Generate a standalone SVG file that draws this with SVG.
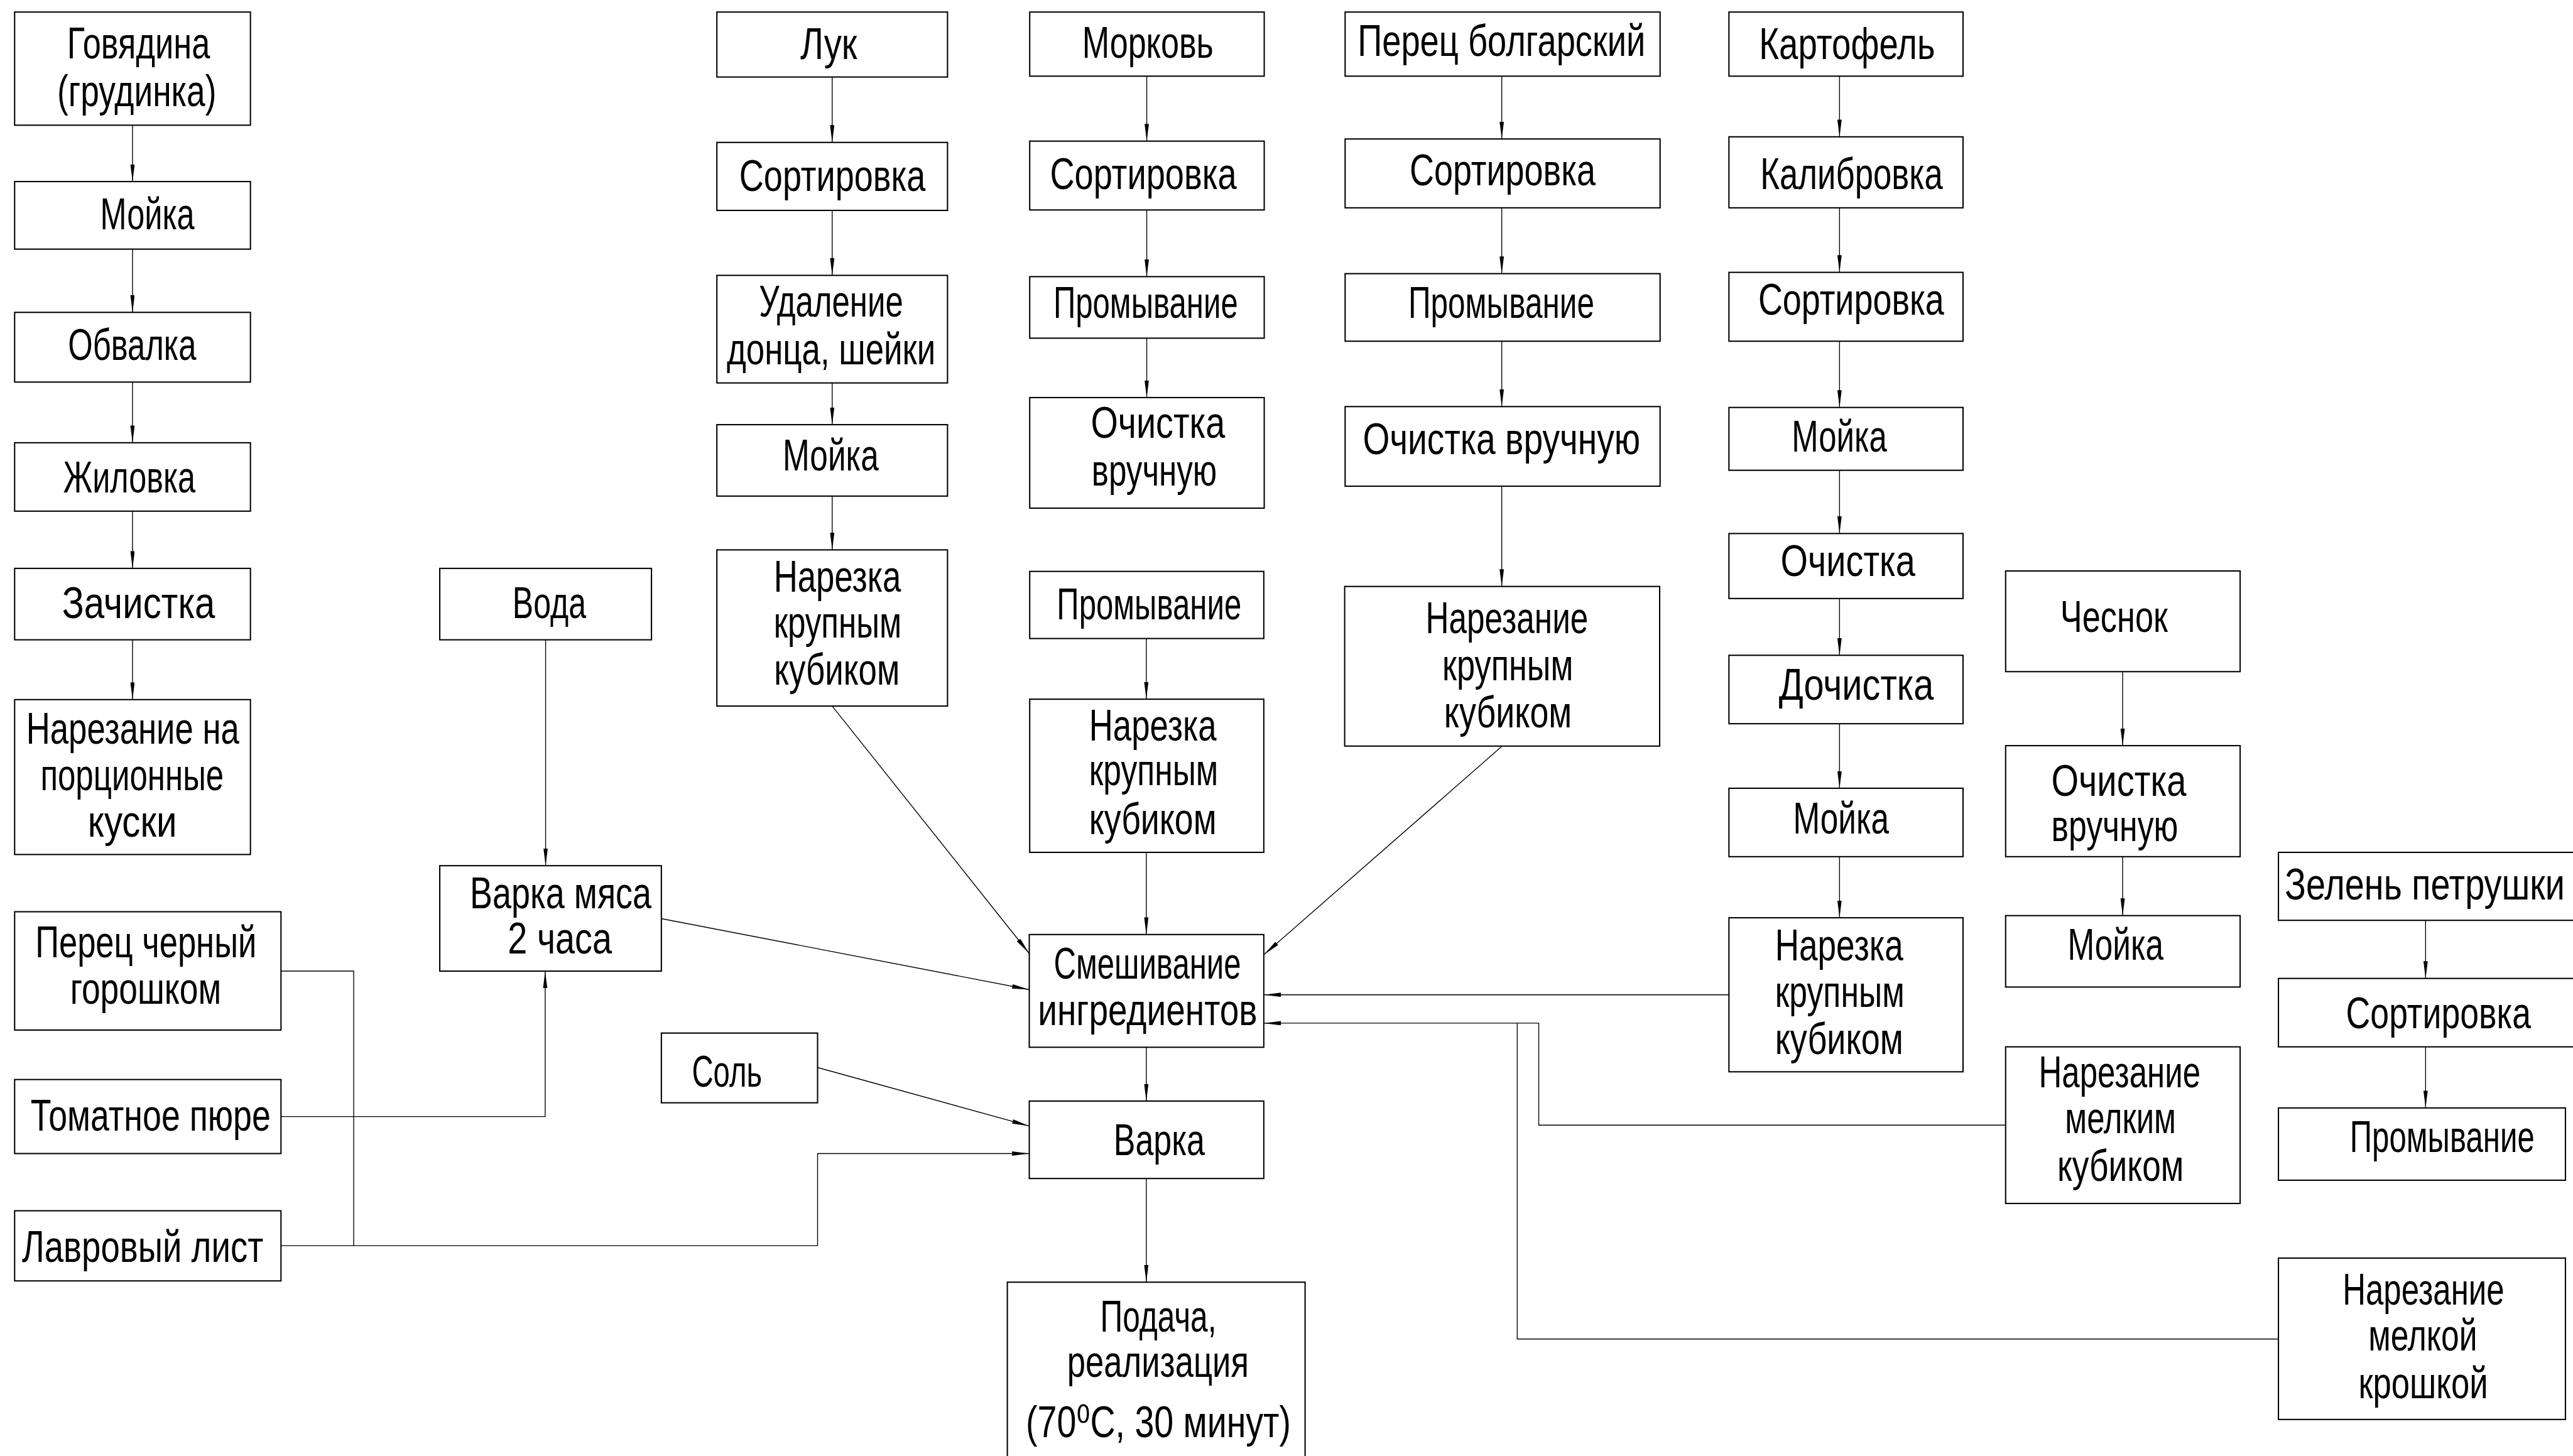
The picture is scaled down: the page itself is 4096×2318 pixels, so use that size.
<svg xmlns="http://www.w3.org/2000/svg" width="4096" height="2318" viewBox="0 0 4096 2318">
<style>
.box{fill:#fff;stroke:#000;stroke-width:3}
.ln{fill:none;stroke:#000;stroke-width:2}
text{font-family:"Liberation Sans","DejaVu Sans",sans-serif;font-size:103px;fill:#000}
</style>
<defs>
<marker id="ar" markerUnits="userSpaceOnUse" markerWidth="42" markerHeight="12" refX="40" refY="5" orient="auto">
<path d="M0,0 L40,5 L0,10 Z" fill="#000"/>
</marker>
</defs>
<rect width="4096" height="2318" fill="#fff"/>
<g transform="scale(0.685)">
<g id="connectors">
<path class="ln" marker-end="url(#ar)" d="M308,291 V422"/>
<path class="ln" marker-end="url(#ar)" d="M308,579 V726"/>
<path class="ln" marker-end="url(#ar)" d="M308,888 V1029"/>
<path class="ln" marker-end="url(#ar)" d="M308,1188 V1321"/>
<path class="ln" marker-end="url(#ar)" d="M308,1487 V1626"/>
<path class="ln" marker-end="url(#ar)" d="M1934,179 V331"/>
<path class="ln" marker-end="url(#ar)" d="M1934,489 V640"/>
<path class="ln" marker-end="url(#ar)" d="M1934,890 V987"/>
<path class="ln" marker-end="url(#ar)" d="M1934,1153 V1278"/>
<path class="ln" marker-end="url(#ar)" d="M2665,177 V328"/>
<path class="ln" marker-end="url(#ar)" d="M2665,488 V643"/>
<path class="ln" marker-end="url(#ar)" d="M2665,786 V924"/>
<path class="ln" marker-end="url(#ar)" d="M2664,1484 V1625"/>
<path class="ln" marker-end="url(#ar)" d="M2664,1981 V2172"/>
<path class="ln" marker-end="url(#ar)" d="M2664,2434 V2559"/>
<path class="ln" marker-end="url(#ar)" d="M2664,2739 V2980"/>
<path class="ln" marker-end="url(#ar)" d="M3490,177 V323"/>
<path class="ln" marker-end="url(#ar)" d="M3490,483 V636"/>
<path class="ln" marker-end="url(#ar)" d="M3490,793 V945"/>
<path class="ln" marker-end="url(#ar)" d="M3490,1130 V1363"/>
<path class="ln" marker-end="url(#ar)" d="M4275,177 V318"/>
<path class="ln" marker-end="url(#ar)" d="M4275,483 V633"/>
<path class="ln" marker-end="url(#ar)" d="M4275,793 V947"/>
<path class="ln" marker-end="url(#ar)" d="M4275,1093 V1240"/>
<path class="ln" marker-end="url(#ar)" d="M4275,1391 V1523"/>
<path class="ln" marker-end="url(#ar)" d="M4275,1682 V1832"/>
<path class="ln" marker-end="url(#ar)" d="M4275,1991 V2133"/>
<path class="ln" marker-end="url(#ar)" d="M4933,1561 V1733"/>
<path class="ln" marker-end="url(#ar)" d="M4933,1991 V2128"/>
<path class="ln" marker-end="url(#ar)" d="M5637,2139 V2274"/>
<path class="ln" marker-end="url(#ar)" d="M5637,2433 V2575"/>
<path class="ln" marker-end="url(#ar)" d="M1268,1487 V2012"/>
<path class="ln" marker-end="url(#ar)" d="M1934,1641 L2392,2216"/>
<path class="ln" marker-end="url(#ar)" d="M3491,1734 L2937,2219"/>
<path class="ln" marker-end="url(#ar)" d="M1537,2135 L2392,2300"/>
<path class="ln" marker-end="url(#ar)" d="M1900,2481 L2392,2617"/>
<path class="ln" marker-end="url(#ar)" d="M4018,2312 H2937"/>
<path class="ln" marker-end="url(#ar)" d="M4661,2615 H3576 V2378 H2937"/>
<path class="ln" d="M5295,3112 H3526 V2378"/>
<path class="ln" marker-end="url(#ar)" d="M653,2595 H1267 V2257"/>
<path class="ln" d="M653,2257 H822 V2895"/>
<path class="ln" marker-end="url(#ar)" d="M653,2895 H1900 V2681 H2392"/>
</g>
<g id="n-govyadina"><rect class="box" x="34" y="28" width="548" height="263"/><text x="156" y="136" textLength="332" lengthAdjust="spacingAndGlyphs">Говядина</text><text x="133" y="246" textLength="370" lengthAdjust="spacingAndGlyphs">(грудинка)</text></g>
<g id="n-moyka1"><rect class="box" x="34" y="422" width="548" height="157"/><text x="233" y="533" textLength="219" lengthAdjust="spacingAndGlyphs">Мойка</text></g>
<g id="n-obvalka"><rect class="box" x="34" y="726" width="548" height="162"/><text x="158" y="837" textLength="298" lengthAdjust="spacingAndGlyphs">Обвалка</text></g>
<g id="n-zhilovka"><rect class="box" x="34" y="1029" width="548" height="159"/><text x="147" y="1144" textLength="307" lengthAdjust="spacingAndGlyphs">Жиловка</text></g>
<g id="n-zachistka"><rect class="box" x="34" y="1321" width="548" height="166"/><text x="144" y="1436" textLength="356" lengthAdjust="spacingAndGlyphs">Зачистка</text></g>
<g id="n-narezanie-porc"><rect class="box" x="34" y="1626" width="548" height="360"/><text x="61" y="1728" textLength="495" lengthAdjust="spacingAndGlyphs">Нарезание на</text><text x="94" y="1837" textLength="426" lengthAdjust="spacingAndGlyphs">порционные</text><text x="204" y="1945" textLength="207" lengthAdjust="spacingAndGlyphs">куски</text></g>
<g id="n-voda"><rect class="box" x="1022" y="1321" width="492" height="166"/><text x="1191" y="1436" textLength="171" lengthAdjust="spacingAndGlyphs">Вода</text></g>
<g id="n-varka-myasa"><rect class="box" x="1022" y="2012" width="515" height="245"/><text x="1092" y="2111" textLength="422" lengthAdjust="spacingAndGlyphs">Варка мяса</text><text x="1180" y="2216" textLength="242" lengthAdjust="spacingAndGlyphs">2 часа</text></g>
<g id="n-perec-cherny"><rect class="box" x="34" y="2119" width="619" height="275"/><text x="82" y="2225" textLength="514" lengthAdjust="spacingAndGlyphs">Перец черный</text><text x="163" y="2333" textLength="351" lengthAdjust="spacingAndGlyphs">горошком</text></g>
<g id="n-tomat"><rect class="box" x="34" y="2509" width="619" height="172"/><text x="71" y="2628" textLength="558" lengthAdjust="spacingAndGlyphs">Томатное пюре</text></g>
<g id="n-lavr"><rect class="box" x="34" y="2814" width="619" height="163"/><text x="51" y="2933" textLength="561" lengthAdjust="spacingAndGlyphs">Лавровый лист</text></g>
<g id="n-sol"><rect class="box" x="1537" y="2401" width="363" height="162"/><text x="1608" y="2526" textLength="163" lengthAdjust="spacingAndGlyphs">Соль</text></g>
<g id="n-luk"><rect class="box" x="1666" y="28" width="536" height="151"/><text x="1860" y="137" textLength="132" lengthAdjust="spacingAndGlyphs">Лук</text></g>
<g id="n-luk-sort"><rect class="box" x="1666" y="331" width="536" height="158"/><text x="1718" y="444" textLength="433" lengthAdjust="spacingAndGlyphs">Сортировка</text></g>
<g id="n-luk-udal"><rect class="box" x="1666" y="640" width="536" height="250"/><text x="1764" y="736" textLength="335" lengthAdjust="spacingAndGlyphs">Удаление</text><text x="1689" y="846" textLength="485" lengthAdjust="spacingAndGlyphs">донца, шейки</text></g>
<g id="n-luk-moyka"><rect class="box" x="1666" y="987" width="536" height="166"/><text x="1819" y="1093" textLength="223" lengthAdjust="spacingAndGlyphs">Мойка</text></g>
<g id="n-luk-narezka"><rect class="box" x="1666" y="1278" width="536" height="363"/><text x="1798" y="1375" textLength="296" lengthAdjust="spacingAndGlyphs">Нарезка</text><text x="1798" y="1482" textLength="297" lengthAdjust="spacingAndGlyphs">крупным</text><text x="1799" y="1591" textLength="292" lengthAdjust="spacingAndGlyphs">кубиком</text></g>
<g id="n-morkov"><rect class="box" x="2393" y="28" width="545" height="149"/><text x="2515" y="135" textLength="305" lengthAdjust="spacingAndGlyphs">Морковь</text></g>
<g id="n-morkov-sort"><rect class="box" x="2393" y="328" width="545" height="160"/><text x="2440" y="439" textLength="434" lengthAdjust="spacingAndGlyphs">Сортировка</text></g>
<g id="n-morkov-prom"><rect class="box" x="2393" y="643" width="545" height="143"/><text x="2448" y="738" textLength="429" lengthAdjust="spacingAndGlyphs">Промывание</text></g>
<g id="n-morkov-ochist"><rect class="box" x="2393" y="924" width="545" height="257"/><text x="2535" y="1018" textLength="312" lengthAdjust="spacingAndGlyphs">Очистка</text><text x="2537" y="1128" textLength="291" lengthAdjust="spacingAndGlyphs">вручную</text></g>
<g id="n-morkov-prom2"><rect class="box" x="2393" y="1328" width="544" height="156"/><text x="2456" y="1439" textLength="429" lengthAdjust="spacingAndGlyphs">Промывание</text></g>
<g id="n-morkov-narezka"><rect class="box" x="2393" y="1625" width="544" height="356"/><text x="2531" y="1721" textLength="296" lengthAdjust="spacingAndGlyphs">Нарезка</text><text x="2531" y="1825" textLength="300" lengthAdjust="spacingAndGlyphs">крупным</text><text x="2531" y="1938" textLength="296" lengthAdjust="spacingAndGlyphs">кубиком</text></g>
<g id="n-perec-bolg"><rect class="box" x="3126" y="28" width="732" height="149"/><text x="3155" y="130" textLength="669" lengthAdjust="spacingAndGlyphs">Перец болгарский</text></g>
<g id="n-perec-sort"><rect class="box" x="3126" y="323" width="732" height="160"/><text x="3276" y="431" textLength="432" lengthAdjust="spacingAndGlyphs">Сортировка</text></g>
<g id="n-perec-prom"><rect class="box" x="3126" y="636" width="732" height="157"/><text x="3273" y="738" textLength="432" lengthAdjust="spacingAndGlyphs">Промывание</text></g>
<g id="n-perec-ochist"><rect class="box" x="3126" y="945" width="732" height="185"/><text x="3167" y="1055" textLength="645" lengthAdjust="spacingAndGlyphs">Очистка вручную</text></g>
<g id="n-perec-narez"><rect class="box" x="3125" y="1363" width="732" height="371"/><text x="3313" y="1472" textLength="378" lengthAdjust="spacingAndGlyphs">Нарезание</text><text x="3352" y="1581" textLength="304" lengthAdjust="spacingAndGlyphs">крупным</text><text x="3356" y="1691" textLength="297" lengthAdjust="spacingAndGlyphs">кубиком</text></g>
<g id="n-kartofel"><rect class="box" x="4018" y="28" width="544" height="149"/><text x="4088" y="137" textLength="409" lengthAdjust="spacingAndGlyphs">Картофель</text></g>
<g id="n-kart-kalib"><rect class="box" x="4018" y="318" width="544" height="165"/><text x="4091" y="439" textLength="424" lengthAdjust="spacingAndGlyphs">Калибровка</text></g>
<g id="n-kart-sort"><rect class="box" x="4018" y="633" width="544" height="160"/><text x="4086" y="732" textLength="432" lengthAdjust="spacingAndGlyphs">Сортировка</text></g>
<g id="n-kart-moyka"><rect class="box" x="4018" y="947" width="544" height="146"/><text x="4164" y="1050" textLength="221" lengthAdjust="spacingAndGlyphs">Мойка</text></g>
<g id="n-kart-ochist"><rect class="box" x="4018" y="1240" width="544" height="151"/><text x="4138" y="1339" textLength="313" lengthAdjust="spacingAndGlyphs">Очистка</text></g>
<g id="n-kart-dochist"><rect class="box" x="4018" y="1523" width="544" height="159"/><text x="4134" y="1626" textLength="360" lengthAdjust="spacingAndGlyphs">Дочистка</text></g>
<g id="n-kart-moyka2"><rect class="box" x="4018" y="1832" width="544" height="159"/><text x="4167" y="1937" textLength="223" lengthAdjust="spacingAndGlyphs">Мойка</text></g>
<g id="n-kart-narezka"><rect class="box" x="4018" y="2133" width="544" height="358"/><text x="4125" y="2232" textLength="298" lengthAdjust="spacingAndGlyphs">Нарезка</text><text x="4125" y="2340" textLength="301" lengthAdjust="spacingAndGlyphs">крупным</text><text x="4125" y="2450" textLength="298" lengthAdjust="spacingAndGlyphs">кубиком</text></g>
<g id="n-chesnok"><rect class="box" x="4661" y="1327" width="545" height="234"/><text x="4788" y="1469" textLength="250" lengthAdjust="spacingAndGlyphs">Чеснок</text></g>
<g id="n-chesnok-ochist"><rect class="box" x="4661" y="1733" width="545" height="258"/><text x="4767" y="1849" textLength="314" lengthAdjust="spacingAndGlyphs">Очистка</text><text x="4767" y="1955" textLength="295" lengthAdjust="spacingAndGlyphs">вручную</text></g>
<g id="n-chesnok-moyka"><rect class="box" x="4661" y="2128" width="545" height="166"/><text x="4805" y="2231" textLength="223" lengthAdjust="spacingAndGlyphs">Мойка</text></g>
<g id="n-chesnok-narez"><rect class="box" x="4661" y="2433" width="545" height="364"/><text x="4738" y="2527" textLength="376" lengthAdjust="spacingAndGlyphs">Нарезание</text><text x="4799" y="2633" textLength="258" lengthAdjust="spacingAndGlyphs">мелким</text><text x="4781" y="2744" textLength="294" lengthAdjust="spacingAndGlyphs">кубиком</text></g>
<g id="n-zelen"><rect class="box" x="5295" y="1981" width="700" height="158"/><text transform="matrix(0.7,0,0,1,5310,2090)" x="0" y="0" textLength="929" lengthAdjust="spacingAndGlyphs">Зелень петрушки</text></g>
<g id="n-zelen-sort"><rect class="box" x="5295" y="2274" width="700" height="159"/><text transform="matrix(0.7,0,0,1,5452,2390)" x="0" y="0" textLength="614" lengthAdjust="spacingAndGlyphs">Сортировка</text></g>
<g id="n-zelen-prom"><rect class="box" x="5295" y="2575" width="667" height="168"/><text transform="matrix(0.7,0,0,1,5461,2677)" x="0" y="0" textLength="613" lengthAdjust="spacingAndGlyphs">Промывание</text></g>
<g id="n-zelen-kroshka"><rect class="box" x="5295" y="2924" width="667" height="375"/><text x="5444" y="3032" textLength="376" lengthAdjust="spacingAndGlyphs">Нарезание</text><text x="5504" y="3138" textLength="253" lengthAdjust="spacingAndGlyphs">мелкой</text><text x="5481" y="3250" textLength="301" lengthAdjust="spacingAndGlyphs">крошкой</text></g>
<g id="n-smesh"><rect class="box" x="2392" y="2172" width="545" height="262"/><text x="2449" y="2274" textLength="435" lengthAdjust="spacingAndGlyphs">Смешивание</text><text x="2412" y="2383" textLength="510" lengthAdjust="spacingAndGlyphs">ингредиентов</text></g>
<g id="n-varka"><rect class="box" x="2392" y="2559" width="545" height="180"/><text x="2588" y="2684" textLength="212" lengthAdjust="spacingAndGlyphs">Варка</text></g>
<g id="n-podacha"><rect class="box" x="2341" y="2980" width="692" height="420"/><text x="2557" y="3095" textLength="270" lengthAdjust="spacingAndGlyphs">Подача,</text><text x="2480" y="3200" textLength="422" lengthAdjust="spacingAndGlyphs">реализация</text><text x="2384" y="3340" textLength="616" lengthAdjust="spacingAndGlyphs">(70⁰C, 30 минут)</text></g>
</g>
</svg>
